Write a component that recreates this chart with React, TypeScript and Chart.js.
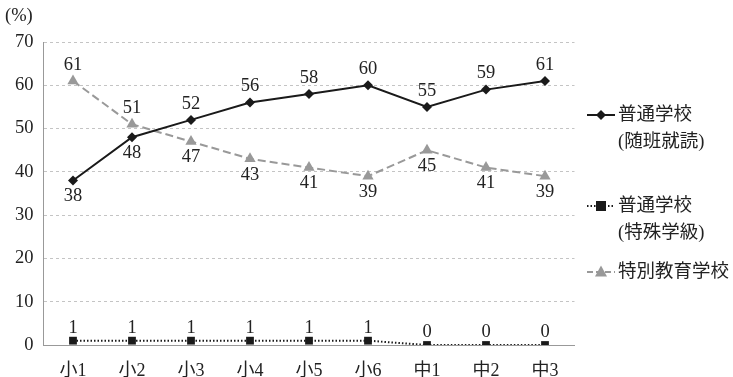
import React, { useEffect, useRef } from "react";
import { Chart, registerables } from "chart.js";

Chart.register(...registerables);

const categories = ["小1", "小2", "小3", "小4", "小5", "小6", "中1", "中2", "中3"];
const regularIntegrated = [38, 48, 52, 56, 58, 60, 55, 59, 61];
const regularSpecialClass = [1, 1, 1, 1, 1, 1, 0, 0, 0];
const specialSchool = [61, 51, 47, 43, 41, 39, 45, 41, 39];
const yTicks = [0, 10, 20, 30, 40, 50, 60, 70];
// label placement: true = above, false = below
const regularIntegratedAbove = [false, false, true, true, true, true, true, true, true];
const specialSchoolAbove = [true, true, false, false, false, false, false, false, false];
const regularSpecialAbove = [true, true, true, true, true, true, true, true, true];

const FONT = "'Liberation Serif', 'DejaVu Serif', 'Noto Sans CJK JP', serif";
const TEXT = "#222";

function drawMarker(ctx: CanvasRenderingContext2D, style: string, x: number, y: number, r: number, color: string) {
  ctx.save();
  ctx.fillStyle = color;
  ctx.setLineDash([]);
  ctx.beginPath();
  if (style === "diamond") {
    ctx.moveTo(x, y - r);
    ctx.lineTo(x + r, y);
    ctx.lineTo(x, y + r);
    ctx.lineTo(x - r, y);
  } else if (style === "square") {
    ctx.rect(x - r, y - r, 2 * r, 2 * r);
  } else {
    ctx.moveTo(x, y - r * 1.1);
    ctx.lineTo(x + r, y + r * 0.75);
    ctx.lineTo(x - r, y + r * 0.75);
  }
  ctx.closePath();
  ctx.fill();
  ctx.restore();
}

const extrasPlugin = {
  id: "extras",
  afterDatasetsDraw(chart: any) {
    const ctx = chart.ctx as CanvasRenderingContext2D;
    ctx.save();
    ctx.font = `18.5px ${FONT}`;
    ctx.fillStyle = TEXT;
    ctx.textAlign = "center";
    ctx.textBaseline = "middle";
    const aboveSets = [regularIntegratedAbove, regularSpecialAbove, specialSchoolAbove];
    chart.data.datasets.forEach((ds: any, di: number) => {
      const meta = chart.getDatasetMeta(di);
      meta.data.forEach((pt: any, i: number) => {
        const above = aboveSets[di][i];
        const off = di === 1 ? 13 : 16;
        ctx.fillText(String(ds.data[i]), pt.x, above ? pt.y - off : pt.y + off);
      });
    });

    // unit label
    ctx.textAlign = "left";
    ctx.fillText("(%)", 5, 16);

    // legend
    ctx.font = `18.5px ${FONT}`;
    const lx0 = 587, lx1 = 615, mx = 601, tx = 618;
    const entries = [
      { y: 115, lines: ["普通学校", "(随班就読)"], color: "#1a1a1a", dash: [] as number[], marker: "diamond", r: 5 },
      { y: 206, lines: ["普通学校", "(特殊学級)"], color: "#1a1a1a", dash: [1.5, 2], marker: "square", r: 5 },
      { y: 272, lines: ["特別教育学校"], color: "#999", dash: [6, 3], marker: "triangle", r: 6 },
    ];
    entries.forEach((e) => {
      ctx.save();
      ctx.strokeStyle = e.color;
      ctx.lineWidth = 2;
      ctx.setLineDash(e.dash);
      ctx.beginPath();
      ctx.moveTo(lx0, e.y);
      ctx.lineTo(lx1, e.y);
      ctx.stroke();
      ctx.restore();
      drawMarker(ctx, e.marker, mx, e.y, e.r, e.color);
      ctx.fillStyle = TEXT;
      e.lines.forEach((l, k) => ctx.fillText(l, tx, e.y + k * 27));
    });
    ctx.restore();
  },
};

export default function App() {
  const ref = useRef<HTMLCanvasElement>(null);
  useEffect(() => {
    if (!ref.current) return;
    const chart = new Chart(ref.current, {
      type: "line",
      data: {
        labels: categories,
        datasets: [
          {
            label: "普通学校(随班就読)",
            data: regularIntegrated,
            borderColor: "#1a1a1a",
            backgroundColor: "#1a1a1a",
            borderWidth: 2,
            pointStyle: "rectRot",
            pointRadius: 5,
            pointBorderWidth: 0,
            tension: 0,
          },
          {
            label: "普通学校(特殊学級)",
            data: regularSpecialClass,
            borderColor: "#1a1a1a",
            backgroundColor: "#1a1a1a",
            borderWidth: 2,
            borderDash: [1.5, 2],
            pointStyle: "rect",
            pointRadius: 5.5,
            pointBorderWidth: 0,
            tension: 0,
          },
          {
            label: "特別教育学校",
            data: specialSchool,
            borderColor: "#999",
            backgroundColor: "#999",
            borderWidth: 2,
            borderDash: [8, 4],
            pointStyle: "triangle",
            pointRadius: 6.5,
            pointBorderWidth: 0,
            tension: 0,
          },
        ],
      },
      options: {
        responsive: false,
        animation: false,
        layout: { padding: { top: 42, right: 158.5, bottom: 0, left: 0 } },
        plugins: { legend: { display: false }, tooltip: { enabled: false } },
        scales: {
          x: {
            offset: true,
            grid: { display: false },
            border: { display: true, color: "#999", width: 1 },
            ticks: { color: TEXT, font: { family: FONT, size: 18 }, padding: 7 },
            afterFit: (s: any) => { s.height = 32; },
          },
          y: {
            min: 0,
            max: 70,
            afterBuildTicks: (s: any) => { s.ticks = yTicks.map((v) => ({ value: v })); },
            grid: { color: "#c4c4c4", lineWidth: 1, drawTicks: false },
            border: { display: true, color: "#999", width: 1, dash: [3, 3] },
            ticks: { color: TEXT, font: { family: FONT, size: 18.5 }, padding: 10 },
            afterFit: (s: any) => { s.width = 43.5; },
          },
        },
      },
      plugins: [extrasPlugin],
    });
    return () => chart.destroy();
  }, []);
  return (
    <div style={{ position: "fixed", left: 0, top: 0, width: 733, height: 377, background: "#fff" }}>
      <canvas ref={ref} width={733} height={377} />
    </div>
  );
}
